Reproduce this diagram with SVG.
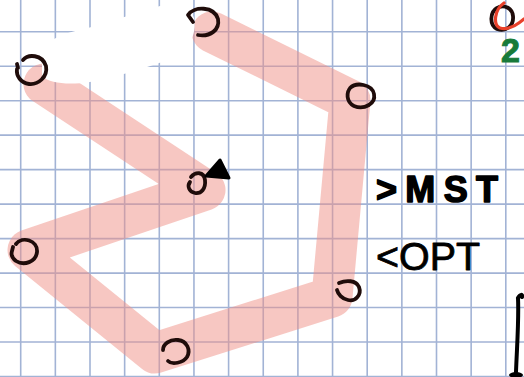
<svg xmlns="http://www.w3.org/2000/svg" width="524" height="377" viewBox="0 0 524 377">
<defs>
<style>
.grid{stroke:#a2b3d5;stroke-width:1.6;fill:none}
.band{stroke:#ef8f86;stroke-opacity:0.5;stroke-width:41;fill:none;stroke-linecap:round;stroke-linejoin:round}
.pen{stroke:#1f0c0a;stroke-width:3.8;fill:none;stroke-linecap:round;stroke-linejoin:round}
.hand{font-family:"Liberation Sans",Arial,sans-serif;fill:#000;stroke:#000;stroke-linejoin:round}
</style>
</defs>
<rect width="524" height="377" fill="#ffffff"/>
<g id="grid" class="grid">
<path d="M20.7 0V377M55.35 0V377M90 0V377M124.65 0V377M159.3 0V377M193.95 0V377M228.6 0V377M263.25 0V377M297.9 0V377M332.55 0V377M367.2 0V377M401.85 0V377M436.5 0V377M471.15 0V377M505.8 0V377"/>
<path d="M0 31.7H524M0 66.2H524M0 100.7H524M0 135.1H524M0 169.6H524M0 204.1H524M0 238.6H524M0 273.1H524M0 307.5H524M0 342H524M0 376.5H524"/>
</g>
<g id="connectors">
<path class="band" d="M44 84 L205 190 L28 250 L155 353 L332 297 L350 100 L212 32"/>
</g>
<path id="eraser" fill="#ffffff" d="M42 50 C50 38 65 33 80 30 C100 25 130 15 160 6 C175 3 190 5 194 18 C197 35 190 50 165 61 C140 70 110 78 90 82 C70 85 50 84 42 76 Z"/>
<g id="node-a"><path class="pen" d="M18 68 L17 64 M23 60 C28 54 42 54 46 66 C48 77 38 85 29 84 C21 83 16 76 17 69"/></g>
<g id="node-b"><path class="pen" d="M193 22 L188 15 C194 6 214 6 218 19 C220 30 210 37 198 35"/></g>
<g id="node-c"><path class="pen" d="M350 88 C356 82 372 84 374 94 C376 104 364 110 354 106 C346 102 346 92 351 87"/></g>
<g id="node-d"><path class="pen" d="M191 177 C195 172 204 171 205 180 C206 189 201 194 195 193 C189 192 187 186 190 182"/>
<path d="M206 176 L220 160 L229 178 Z M206 176 L222 166 M214 168 L224 176" stroke="#000" stroke-width="3" fill="#000" stroke-linejoin="round" stroke-linecap="round"/></g>
<g id="node-e"><path class="pen" d="M12 251 L13 247 M16 244 C22 236 38 240 37 252 C36 262 24 266 16 261 C12 258 11 254 12 251"/></g>
<g id="node-f"><path class="pen" d="M339 283 C346 280 356 280 359 287 C362 295 355 302 348 300 C342 299 338 294 337 290"/></g>
<g id="node-g"><path class="pen" d="M163 350 C163 344 170 339 178 340 C187 341 191 350 187 357 C183 363 172 365 168 361"/></g>
<g id="legend">
<path class="pen" stroke="#000" d="M497 8 C490 12 489 25 497 29 C506 32 514 26 513 16 C512 8 505 5 499 7"/>
<path d="M504 3 C494 10 493 25 500 28 C507 30 516 26 524 19" stroke="#e8402a" stroke-width="3.2" fill="none" stroke-linecap="round"/>
<text x="501" y="62" font-family="Liberation Sans, Arial, sans-serif" font-size="34" font-weight="bold" fill="#177a3a" stroke="#177a3a" stroke-width="1">2</text>
</g>
<text class="hand" x="376" y="202" font-size="36" font-weight="bold" stroke-width="1.5" textLength="122" lengthAdjust="spacing">&gt;MST</text>
<text class="hand" x="376" y="270" font-size="38" stroke-width="0.8" textLength="104" lengthAdjust="spacingAndGlyphs">&lt;OPT</text>
<g id="mark">
<path d="M518 298 C520 294 523 294 522 297 M518 298 C519 320 517 345 516 372" stroke="#000" stroke-width="4" fill="none" stroke-linecap="round"/>
<ellipse cx="516" cy="375" rx="7" ry="3" fill="#000"/>
</g>
</svg>
